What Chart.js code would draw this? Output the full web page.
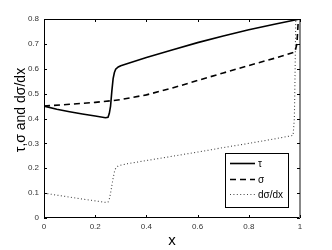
<!DOCTYPE html>
<html>
<head>
<meta charset="utf-8">
<script src="https://cdn.jsdelivr.net/npm/chart.js@4/dist/chart.umd.min.js"></script>
<style>
html,body{margin:0;padding:0;background:#fff;}
#wrap{width:332px;height:250px;position:relative;}
</style>
</head>
<body>
<div id="wrap"><canvas id="c" width="332" height="250"></canvas></div>
<script>
// ---- data ----
const seriesNames = ['τ', 'σ', 'dσ/dx'];
const tauX = [0, 0.05, 0.1, 0.15, 0.2, 0.24, 0.25, 0.255, 0.26, 0.265, 0.27, 0.275, 0.28, 0.29, 0.3, 0.33, 0.4, 0.5, 0.6, 0.7, 0.8, 0.9, 1.0];
const tauY = [0.45, 0.437, 0.427, 0.418, 0.41, 0.403, 0.405, 0.42, 0.45, 0.51, 0.56, 0.585, 0.598, 0.607, 0.612, 0.622, 0.645, 0.675, 0.705, 0.732, 0.757, 0.779, 0.80];
const sigX = [0, 0.1, 0.2, 0.27, 0.3, 0.4, 0.5, 0.6, 0.7, 0.8, 0.9, 0.98, 0.988, 0.993, 1.0];
const sigY = [0.45, 0.457, 0.465, 0.472, 0.476, 0.495, 0.522, 0.553, 0.583, 0.613, 0.642, 0.667, 0.70, 0.79, 0.80];
const dsdxX = [0, 0.05, 0.1, 0.15, 0.2, 0.245, 0.25, 0.255, 0.26, 0.265, 0.27, 0.275, 0.28, 0.29, 0.33, 0.4, 0.5, 0.6, 0.7, 0.8, 0.9, 0.973, 0.978, 0.981, 0.984];
const dsdxY = [0.10, 0.092, 0.084, 0.076, 0.069, 0.062, 0.064, 0.075, 0.10, 0.13, 0.16, 0.185, 0.20, 0.21, 0.219, 0.231, 0.248, 0.265, 0.283, 0.30, 0.318, 0.332, 0.40, 0.60, 0.85];
const xTicks = [0, 0.2, 0.4, 0.6, 0.8, 1];
const yTicks = [0, 0.1, 0.2, 0.3, 0.4, 0.5, 0.6, 0.7, 0.8];
const xTitle = 'x';
const yTitle = 'τ,σ and dσ/dx';

function pts(xs, ys){ return xs.map((x,i)=>({x:x, y:ys[i]})); }

const styles = [
  {borderColor:'#000', borderWidth:1.6, borderDash:[]},
  {borderColor:'#000', borderWidth:1.6, borderDash:[6,4]},
  {borderColor:'#444', borderWidth:1.1, borderDash:[1,2.4]}
];

const FONT = '"Liberation Sans", Arial, sans-serif';

const framePlugin = {
  id:'frame',
  afterDatasetsDraw(chart){
    const ctx = chart.ctx, a = chart.chartArea;
    const xs = chart.scales.x, ys = chart.scales.y;
    ctx.save();
    // box
    ctx.strokeStyle = '#000'; ctx.lineWidth = 1;
    ctx.beginPath();
    ctx.moveTo(a.left+0.5, a.top+0.5); ctx.lineTo(a.right, a.top+0.5);
    ctx.moveTo(a.left+0.5, a.top); ctx.lineTo(a.left+0.5, a.bottom);
    ctx.moveTo(a.left, a.bottom-0.5); ctx.lineTo(a.right, a.bottom-0.5);
    ctx.stroke();
    ctx.strokeStyle = '#888'; ctx.lineWidth = 2;
    ctx.beginPath(); ctx.moveTo(a.right, a.top); ctx.lineTo(a.right, a.bottom); ctx.stroke();
    // inward ticks
    ctx.strokeStyle = '#000'; ctx.lineWidth = 1;
    ctx.beginPath();
    xTicks.forEach(v=>{
      const p = Math.round(xs.getPixelForValue(v))+0.5;
      ctx.moveTo(p, a.bottom); ctx.lineTo(p, a.bottom-3);
      ctx.moveTo(p, a.top); ctx.lineTo(p, a.top+3);
    });
    yTicks.forEach(v=>{
      const p = Math.round(ys.getPixelForValue(v))+0.5;
      ctx.moveTo(a.left, p); ctx.lineTo(a.left+3, p);
      ctx.moveTo(a.right, p); ctx.lineTo(a.right-3, p);
    });
    ctx.stroke();
    // titles
    ctx.fillStyle = '#000';
    ctx.font = '15px ' + FONT;
    ctx.textAlign = 'center'; ctx.textBaseline = 'middle';
    ctx.fillText(xTitle, (a.left+a.right)/2, 241);
    ctx.save();
    ctx.translate(21, 110);
    ctx.rotate(-Math.PI/2);
    ctx.font = '14px ' + FONT;
    ctx.fillText(yTitle, 0, 0);
    ctx.restore();
    // legend
    const L = {left:225, top:153, right:288, bottom:207};
    ctx.fillStyle = '#fff';
    ctx.fillRect(L.left, L.top, L.right-L.left, L.bottom-L.top);
    ctx.strokeStyle = '#000'; ctx.lineWidth = 1;
    ctx.strokeRect(L.left+0.5, L.top+0.5, L.right-L.left, L.bottom-L.top);
    const rows = [163, 179, 194];
    chart.data.datasets.forEach((ds,i)=>{
      ctx.strokeStyle = ds.borderColor; ctx.lineWidth = ds.borderWidth;
      ctx.setLineDash(ds.borderDash || []);
      ctx.beginPath(); ctx.moveTo(230, rows[i]+0.5); ctx.lineTo(255, rows[i]+0.5); ctx.stroke();
      ctx.setLineDash([]);
      ctx.fillStyle = '#000';
      ctx.font = '10px ' + FONT;
      ctx.textAlign = 'left'; ctx.textBaseline = 'middle';
      ctx.fillText(ds.label, 258, rows[i]+1);
    });
    ctx.restore();
  }
};

new Chart(document.getElementById('c'), {
  type:'line',
  data:{
    datasets:[
      Object.assign({label:seriesNames[0], data:pts(tauX,tauY)}, styles[0]),
      Object.assign({label:seriesNames[1], data:pts(sigX,sigY)}, styles[1]),
      Object.assign({label:seriesNames[2], data:pts(dsdxX,dsdxY)}, styles[2])
    ].map(d=>Object.assign(d,{pointRadius:0, tension:0, fill:false}))
  },
  options:{
    responsive:false, animation:false,
    layout:{padding:{top:19, right:32, left:0, bottom:0}},
    plugins:{legend:{display:false}, tooltip:{enabled:false}},
    scales:{
      x:{type:'linear', min:0, max:1,
        afterFit(s){ s.height = 32; },
        afterBuildTicks(s){ s.ticks = xTicks.map(v=>({value:v})); },
        grid:{display:false, drawTicks:false}, border:{display:false},
        ticks:{padding:4, color:'#333', font:{size:8, family:FONT}, maxRotation:0,
          callback:(v)=>String(v)}
      },
      y:{type:'linear', min:0, max:0.8,
        afterFit(s){ s.width = 44; },
        afterBuildTicks(s){ s.ticks = yTicks.map(v=>({value:v})); },
        grid:{display:false, drawTicks:false}, border:{display:false},
        ticks:{padding:5, color:'#333', font:{size:8, family:FONT},
          callback:(v)=>String(v)}
      }
    }
  },
  plugins:[framePlugin]
});
</script>
</body>
</html>
